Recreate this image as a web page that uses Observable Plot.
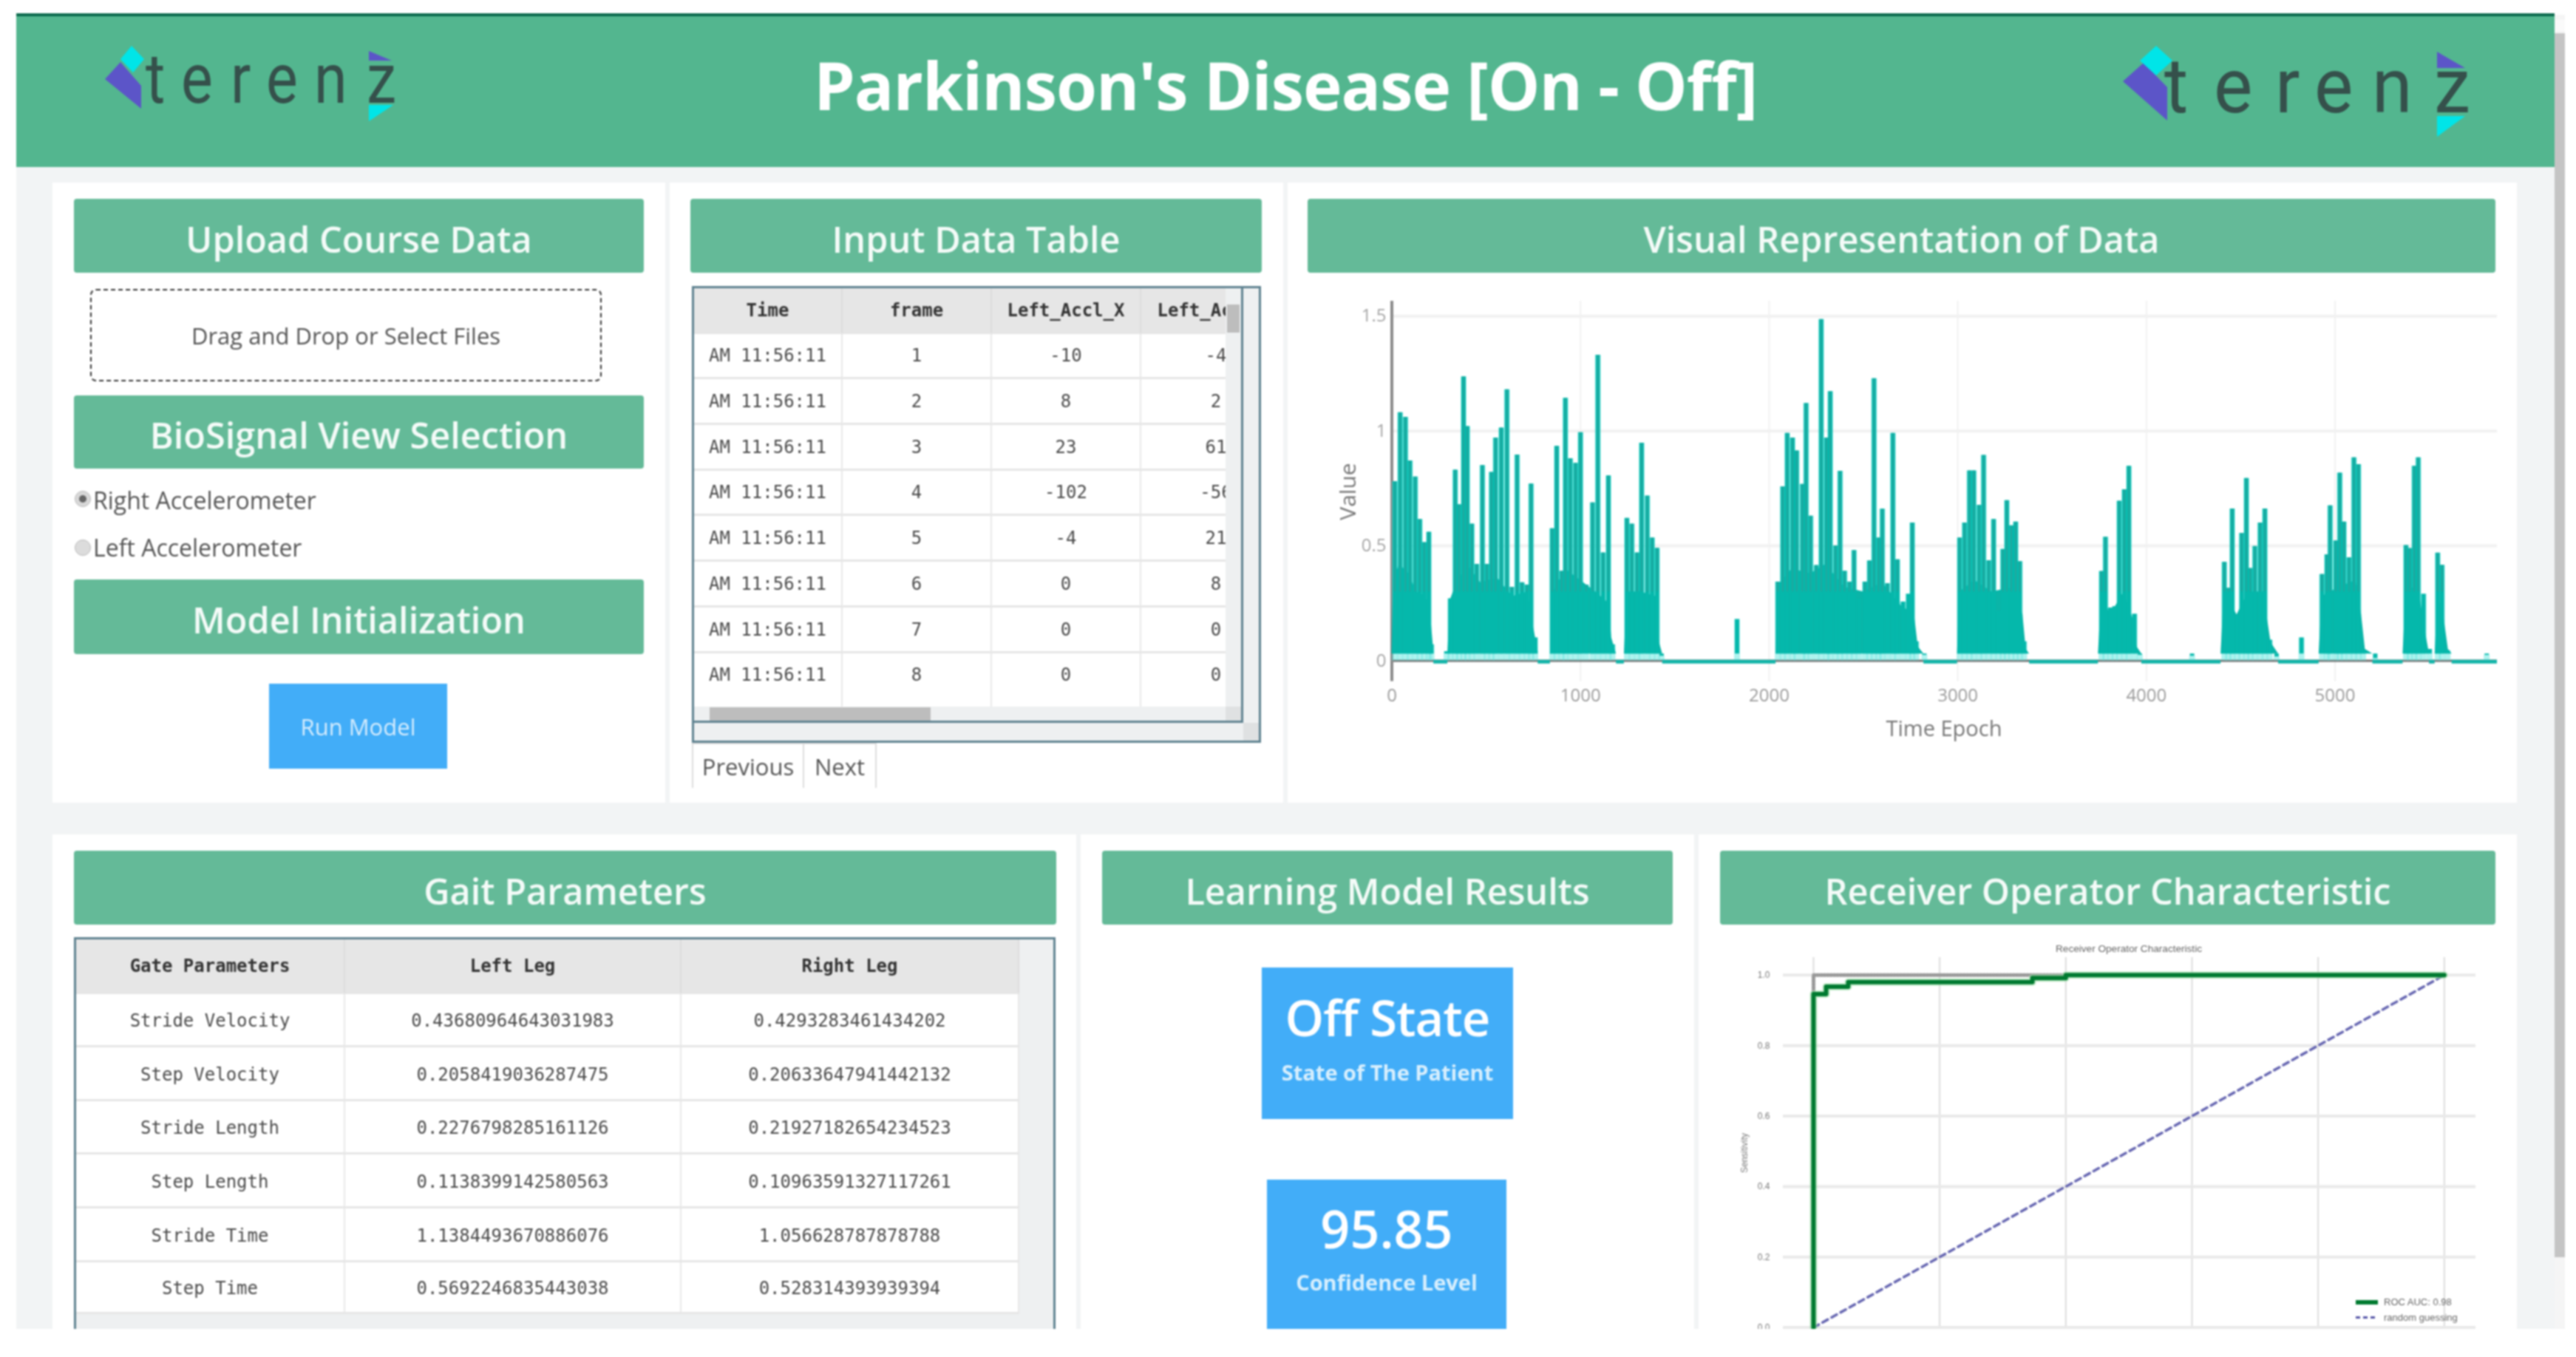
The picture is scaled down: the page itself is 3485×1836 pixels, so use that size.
<!DOCTYPE html>
<html>
<head>
<meta charset="utf-8">
<script src="https://cdn.jsdelivr.net/npm/d3@7"></script>
<script src="https://cdn.jsdelivr.net/npm/@observablehq/plot@0.6"></script>
<style>
  html, body { margin: 0; background: #fff; overflow: hidden; }
  #root { position: relative; width: 3485px; height: 1836px; font-family: "Open Sans", sans-serif; overflow: hidden; filter: blur(0.8px); }
  #root div { position: absolute; box-sizing: border-box; }
  .panel { background: #fff; }
  .head { background: #64ba98; color: #f4fbf8; font-weight: 600; font-size: 48.6px; display: flex; align-items: center; justify-content: center; border-radius: 4px; padding-top: 7px; }
  .tbl { font-family: "DejaVu Sans Mono", monospace; font-size: 24px; color: #4a4a4a; text-align: center; line-height: 1; white-space: nowrap; }
  .cell { display: flex; align-items: center; justify-content: center; overflow: hidden; border-right: 2px solid #e8e8e8; border-bottom: 3px solid #e6e6e6; }
  .th { background: #e6e6e6; color: #333; font-weight: bold; border-right-color: #dcdcdc; }
  .sb { background: #eef0f1; }
  .thumb { background: #bdbdbd; }
  .blue { background: #42adf8; color: #fff; display: flex; flex-direction: column; align-items: center; }
  svg { display: block; }
</style>
</head>
<body>
<div id="root"></div>
<script>
// Signal chart: peak of every spike
const spikeEpochs = [16,44,72,96,124,148,172,196,210,290,
  310,336,356,380,400,424,450,480,504,528,550,580,610,636,664,690,716,738,760,
  850,874,900,920,946,974,1000,1030,1064,1092,1120,1148,1170,
  1246,1272,1300,1324,1354,1380,1406,1430,1830,
  2046,2072,2096,2124,2146,2176,2196,2220,2250,2276,2304,2324,2352,2376,2400,2426,2450,2476,2508,2532,2556,2580,2600,2627,2656,2680,2710,2738,2759,2780,2823,
  3010,3036,3062,3085,3113,3137,3164,3190,3216,3239,3260,3284,3307,3329,3352,
  3762,3783,3809,3832,3856,3883,3907,3937,3965,4242,
  4413,4434,4455,4481,4505,4530,4551,4575,4603,4628,4654,4690,4822,
  4931,4957,4974,5004,5025,5047,5074,5100,5124,5149,5213,
  5376,5396,5420,5441,5469,5501,5544,5567,5597,5804];
const spikeValues = [.78,1.08,1.06,.87,.80,.615,.515,.56,.07,.04,
  .27,.83,.68,1.236,1.02,.595,.42,.85,.42,.82,.97,1.013,1.18,.32,.896,.34,.33,.77,.10,
  .575,.934,.39,1.143,.88,.86,.993,.33,.688,1.33,.47,.805,.07,
  .62,.595,.47,.947,.717,.535,.49,.02,.18,
  .343,.758,.99,.97,.914,.768,1.12,.63,.415,1.485,.97,1.172,.50,.825,.39,.343,.48,.27,.343,.435,1.228,.535,.66,.336,.99,.44,.256,.29,.60,.083,.024,
  .535,.60,.827,.827,.677,.894,.436,.615,.216,.485,.697,.588,.604,.432,.083,
  .389,.538,.23,.236,.695,.745,.847,.203,.024,.02,
  .429,.316,.661,.197,.555,.794,.402,.498,.60,.661,.09,.017,.10,
  .376,.462,.675,.522,.817,.604,.449,.884,.854,.044,.01,
  .502,.489,.847,.884,.29,.05,.469,.416,.044,.024];
// Top of the dense fill under the spikes, burst by burst
const bodyEpochs = [
  [0,8,40,90,130,180,205,222],
  [296,312,340,400,470,560,640,720,750,775],
  [840,856,920,1000,1080,1150,1165,1190],
  [1232,1248,1320,1400,1418,1435],
  [2036,2050,2120,2220,2300,2400,2500,2600,2700,2770,2790,2820],
  [2998,3010,3090,3180,3300,3345,3362,3380],
  [3745,3762,3810,3880,3930,3950,3975],
  [4395,4412,4480,4540,4620,4660,4700],
  [4915,4932,5020,5110,5140,5160,5200],
  [5360,5376,5440,5480,5500],
  [5530,5545,5575,5600,5620]];
const bodyValues = [
  [.03,.35,.42,.38,.3,.28,.2,.04],
  [.03,.27,.33,.42,.34,.36,.28,.3,.15,.04],
  [.03,.3,.4,.35,.3,.25,.1,.03],
  [.03,.3,.3,.28,.08,.03],
  [.03,.33,.4,.38,.42,.32,.3,.34,.24,.2,.06,.03],
  [.03,.3,.35,.3,.32,.2,.05,.03],
  [.03,.28,.2,.3,.18,.06,.03],
  [.03,.3,.2,.3,.3,.08,.03],
  [.03,.28,.32,.35,.2,.05,.03],
  [.03,.3,.33,.12,.03],
  [.03,.28,.2,.05,.03]];
const signalXTicks = [0,1000,2000,3000,4000,5000];
const signalYTicks = [0,.5,1,1.5];

// ROC curve
const rocFpr = [0,0,.02,.02,.055,.055,.347,.347,.4,.4,1];
const rocTpr = [0,.946,.946,.967,.967,.98,.98,.992,.992,1,1];
const perfectFpr = [0,0,.4];
const perfectTpr = [0,1,1];
const randomFpr = [0,1];
const randomTpr = [0,1];
const rocTicks = [0,.2,.4,.6,.8,1];

// Tables
const inputColumns = ["Time","frame","Left_Accl_X","Left_Accl_Y"];
const inputFrames = [1,2,3,4,5,6,7,8];
const inputLeftX = [-10,8,23,-102,-4,0,0,0];
const inputLeftNext = ["-4","2","61","-56","21","8","0","0"];
const gaitColumns = ["Gate Parameters","Left Leg","Right Leg"];
const gaitNames = ["Stride Velocity","Step Velocity","Stride Length","Step Length","Stride Time","Step Time"];
const gaitLeft = ["0.43680964643031983","0.2058419036287475","0.2276798285161126","0.1138399142580563","1.1384493670886076","0.5692246835443038"];
const gaitRight = ["0.4293283461434202","0.20633647941442132","0.21927182654234523","0.10963591327117261","1.056628787878788","0.528314393939394"];

const root = document.getElementById("root");

function box(x0, y0, x1, y1, cls, html, css) {
  const d = document.createElement("div");
  d.className = cls || "";
  d.style.cssText = `left:${x0}px;top:${y0}px;width:${x1 - x0}px;height:${y1 - y0}px;` + (css || "");
  if (html) d.innerHTML = html;
  root.appendChild(d);
  return d;
}

// page
box(22, 20, 3456, 1798, "", "", "background:#f2f4f5");
box(22, 18, 3456, 226, "", "", "background:#53b68f;border-top:4px solid #0b6a4c");
box(3456, 20, 3470, 1798, "", "", "background:#f5f5f5");
box(3456, 27, 3470, 42, "", "", "background:#fafafa");
box(3456, 45, 3470, 1701, "", "", "background:#c4c4c4");

function logo(xs, sx, base, fs, shapes) {
  const letters = "terenz".split("").map((c, i) =>
    `<text transform="translate(${xs[i]},${base}) scale(${sx},1)" font-family="Roboto" font-weight="400" font-size="${fs}" fill="#35504b">${c}</text>`).join("");
  const svg = `<svg width="3485" height="240" style="position:absolute;left:0;top:0;overflow:visible">${shapes}${letters}</svg>`;
  box(0, 0, 3485, 240, "", svg);
}
logo([197,245,312,360,425,496], .85, 139, 95,
  `<polygon points="142,107 163,84 191,116 191,147" fill="#5c55c8"/>
   <polygon points="163,80 178,62 195,80 180,98" fill="#00e5e8"/>
   <polygon points="499,69 530,82 499,82" fill="#5c55c8"/>
   <polygon points="499,142 532,142 499,164" fill="#00e5e8"/>`);
logo([2928,2995,3078,3131,3209,3293], .95, 152, 104,
  `<polygon points="2872,110 2900,85 2932,118 2932,163" fill="#5c55c8"/>
   <polygon points="2895,82 2917,62 2939,82 2917,102" fill="#00e5e8"/>
   <polygon points="3297,70 3335,92 3297,92" fill="#5c55c8"/>
   <polygon points="3297,157 3335,157 3297,185" fill="#00e5e8"/>`);
box(22, 20, 3456, 226, "", `<span>Parkinson's Disease [On - Off]</span>`,
  "display:flex;align-items:center;justify-content:center;color:#fff;font-weight:700;font-size:89px;padding-bottom:18px;letter-spacing:-1px;");

// panels
box(71, 247, 900, 1086, "panel");
box(906, 247, 1736, 1086, "panel");
box(1742, 247, 3405, 1086, "panel");
box(71, 1129, 1456, 1798, "panel");
box(1462, 1129, 2292, 1798, "panel");
box(2298, 1129, 3405, 1798, "panel");

// section headers
box(100, 269, 871, 369, "head", "Upload Course Data");
box(100, 535, 871, 634, "head", "BioSignal View Selection");
box(100, 784, 871, 885, "head", "Model Initialization");
box(934, 269, 1707, 369, "head", "Input Data Table");
box(1769, 269, 3376, 369, "head", "Visual Representation of Data");
box(100, 1151, 1429, 1251, "head", "Gait Parameters");
box(1491, 1151, 2263, 1251, "head", "Learning Model Results");
box(2327, 1151, 3376, 1251, "head", "Receiver Operator Characteristic");

// upload + radios + button
box(122, 391, 814, 516, "", "Drag and Drop or Select Files",
  "border:2px dashed #333;border-radius:8px;display:flex;align-items:center;justify-content:center;font-size:31px;color:#555;");
box(101, 664, 123, 686, "", "", "border-radius:50%;background:#d8d8d8;border:1px solid #bbb;");
box(107, 670, 117, 680, "", "", "border-radius:50%;background:#666;");
box(101, 730, 123, 752, "", "", "border-radius:50%;background:#dcdcdc;border:1px solid #bbb;");
box(126, 650, 880, 704, "", "Right Accelerometer", "font-size:32px;color:#555;line-height:54px;");
box(126, 714, 880, 768, "", "Left Accelerometer", "font-size:32px;color:#555;line-height:54px;");
box(364, 925, 605, 1040, "blue", "Run Model", "justify-content:center;font-size:31px;color:#d5ecfd;");

// input table: outer frame and header
box(936, 387, 1706, 1005, "", "", "border:3px solid #5f8290;background:#eef0f1;");
box(939, 390, 1682, 978, "", "", "border-right:3px solid #5f8290;border-bottom:3px solid #5f8290;background:#fff;");
const inputX = [939, 1140, 1342, 1544, 1746];
const inputRowY = [390, 452, 513, 575, 637, 698, 760, 822, 884, 956];
inputColumns.forEach((c, j) => {
  // last column runs under the scrollbar, so it is clipped there
  const clip = j === 3 ? "clip-path:inset(0 88px 0 0);border-right:none;" : "";
  box(inputX[j], inputRowY[0], inputX[j + 1], inputRowY[1], "tbl cell th", `<span>${c}</span>`, clip);
});
inputFrames.forEach((f, i) => {
  const row = ["AM 11:56:11", f, inputLeftX[i], inputLeftNext[i]];
  row.forEach((v, j) => {
    const clip = j === 3 ? "clip-path:inset(0 88px 0 0);border-right:none;" : "";
    const css = (i === 7 ? "border-bottom:none;padding-bottom:14px;" : "") + clip;
    box(inputX[j], inputRowY[i + 1], inputX[j + 1], inputRowY[i + 2], "tbl cell", `<span>${v}</span>`, css);
  });
});
box(1658, 390, 1679, 956, "sb");
box(1660, 412, 1677, 450, "thumb");
box(939, 956, 1679, 975, "sb");
box(960, 957, 1259, 975, "thumb");
box(1658, 956, 1679, 975, "", "", "background:#dfe1e2");
box(1682, 978, 1703, 1002, "", "", "background:#dfe1e2");
box(936, 1005, 1088, 1066, "", "Previous", "border:2px solid #ddd;border-bottom:none;font-size:31px;color:#555;display:flex;align-items:center;justify-content:center;");
box(1088, 1005, 1186, 1066, "", "Next", "border:2px solid #ddd;border-bottom:none;border-left:none;font-size:31px;color:#555;display:flex;align-items:center;justify-content:center;");

// gait table
box(100, 1268, 1428, 1798, "", "", "border:3px solid #5f8290;border-bottom:none;background:#eef0f1;");
box(103, 1271, 1403, 1798, "", "", "border-right:2px solid #c9d2d6;background:#fff;");
const gaitX = [103, 467, 922, 1379];
const gaitRowY = [1271, 1345, 1417, 1490, 1562, 1635, 1708, 1778];
gaitColumns.forEach((c, j) => box(gaitX[j], gaitRowY[0], gaitX[j + 1], gaitRowY[1], "tbl cell th", `<span>${c}</span>`));
gaitNames.forEach((n, i) => {
  [n, gaitLeft[i], gaitRight[i]].forEach((v, j) => {
    box(gaitX[j], gaitRowY[i + 1], gaitX[j + 1], gaitRowY[i + 2], "tbl cell", `<span style="margin-top:3px">${v}</span>`);
  });
});
box(1379, 1271, 1403, 1798, "sb");
box(103, 1778, 1403, 1798, "sb");

// result boxes
box(1707, 1309, 2047, 1514, "blue", `<span style="font-size:67px;font-weight:600;margin-top:22px;line-height:90px;letter-spacing:-1px">Off State</span><span style="font-size:29px;font-weight:700;color:#d8effd;margin-top:10px;line-height:40px">State of The Patient</span>`);
box(1714, 1596, 2038, 1798, "blue", `<span style="font-size:70px;font-weight:600;margin-top:20px;line-height:92px">95.85</span><span style="font-size:29px;font-weight:700;color:#d8effd;margin-top:7px;line-height:40px">Confidence Level</span>`);

// signal chart
const spikes = spikeEpochs.map((e, i) => ({e, v: spikeValues[i]}));
const body = bodyEpochs.flatMap((es, b) => es.map((e, i) => ({b, e, v: bodyValues[b][i]})));
// flat stretches between bursts
const quiet = bodyEpochs.map((es, i) => ({s: i ? bodyEpochs[i - 1].at(-1) : 0, t: es[0]})).concat([{s: bodyEpochs.at(-1).at(-1), t: 5860}]);

const signalPlot = Plot.plot({
  width: 1640,
  height: 620,
  marginLeft: 0, marginRight: 0, marginTop: 0, marginBottom: 0,
  style: {background: "transparent", fontFamily: "Open Sans", overflow: "visible"},
  x: {domain: [0, 5860], range: [112.5, 1608]},
  y: {domain: [-0.09, 1.565], range: [531.5, 17]},
  marks: [
    Plot.ruleX(signalXTicks.slice(1), {y1: -0.09, y2: 1.565, stroke: "#f1f1f1", strokeWidth: 2}),
    Plot.ruleY(signalYTicks.slice(1), {x1: 0, x2: 5860, stroke: "#f1f1f1", strokeWidth: 4}),
    Plot.axisX({ticks: signalXTicks, tickSize: 0, tickPadding: 0, anchor: "bottom", fontSize: 24, color: "#9a9a9a",
      label: null, tickFormat: d3.format("d"), dy: -79}),
    Plot.axisY({ticks: signalYTicks, tickSize: 0, anchor: "left", fontSize: 24, color: "#a5a5a5",
      label: null, tickFormat: d => String(d), dx: 105, tickPadding: 0}),
    Plot.ruleY([0], {x1: 0, x2: 5860, stroke: "#6f6f6f", strokeWidth: 3}),
    Plot.ruleX([0], {y1: -0.09, y2: 1.565, stroke: "#8a8a8a", strokeWidth: 4}),
    Plot.ruleX(spikes, {x: "e", y1: 0, y2: "v", stroke: "#5fe8e0", strokeWidth: 8, strokeOpacity: .5}),
    Plot.area(body, {x1: "e", y1: .03, y2: "v", z: "b", fill: "#0ab5a8"}),
    Plot.ruleX(spikes, {x: "e", y1: .03, y2: "v", stroke: "#05b8ab", strokeWidth: 6}),
    Plot.ruleX(spikes.filter(d => d.v > .3), {x: "e", y1: .3, y2: "v", stroke: "#2f9f97", strokeWidth: 1.5}),
    Plot.ruleY(quiet, {x1: "s", x2: "t", y: -0.004, stroke: "#12b5a9", strokeWidth: 5})
  ]
});
box(1770, 390, 3410, 1010, "", "").appendChild(signalPlot);
box(1800, 620, 1844, 710, "", "<span>Value</span>", "font-size:30px;color:#777;display:flex;align-items:center;justify-content:center;transform:rotate(-90deg);");
box(2480, 963, 2780, 1007, "", "Time Epoch", "font-size:29px;color:#777;text-align:center;line-height:44px;");

// ROC chart
const line = (xs, ys) => xs.map((x, i) => ({x, y: ys[i]}));
const rocPlot = Plot.plot({
  width: 1060,
  height: 538,
  marginLeft: 0, marginRight: 0, marginTop: 0, marginBottom: 0,
  style: {background: "transparent", fontFamily: "Liberation Sans", overflow: "hidden"},
  x: {domain: [-0.048, 1.05], range: [72, 1009], axis: null},
  y: {domain: [0, 1.05], range: [535.6, 35]},
  marks: [
    Plot.ruleX(rocTicks, {y1: 0, y2: 1.05, stroke: "#dcdcdc", strokeWidth: 2}),
    Plot.ruleY(rocTicks, {x1: -0.048, x2: 1.05, stroke: "#e9e9e9", strokeWidth: 4}),
    Plot.axisY({ticks: rocTicks, tickSize: 0, fontSize: 12, color: "#777", label: null, anchor: "left",
      tickFormat: d3.format(".1f"), dx: 54, tickPadding: 0}),
    Plot.line(line(perfectFpr, perfectTpr), {x: "x", y: "y", stroke: "#999", strokeWidth: 5, strokeDasharray: "2 2.5"}),
    Plot.line(line(randomFpr, randomTpr), {x: "x", y: "y", stroke: "#6464b0", strokeWidth: 3.5, strokeDasharray: "8 6"}),
    Plot.line(line(rocFpr, rocTpr), {x: "x", y: "y", stroke: "#9fe0a9", strokeWidth: 10, strokeOpacity: .6}),
    Plot.line(line(rocFpr, rocTpr), {x: "x", y: "y", stroke: "#007a30", strokeWidth: 6})
  ]
});
box(2340, 1260, 3400, 1798, "", "").appendChild(rocPlot);
box(2640, 1274, 3120, 1294, "", "Receiver Operator Characteristic", "font:13.6px 'Liberation Sans';color:#666;text-align:center;line-height:20px;");
box(2320, 1520, 2400, 1600, "", "<span>Sensitivity</span>", "font:12px 'Liberation Sans';color:#777;display:flex;align-items:center;justify-content:center;transform:rotate(-90deg);");
box(3187, 1759, 3217, 1765, "", "", "background:#007a30;");
box(3187, 1781, 3217, 1784, "", "", "background:repeating-linear-gradient(90deg,#5454a6 0 6px,transparent 6px 10px);");
box(3225, 1753, 3360, 1771, "", "ROC AUC: 0.98", "font:13px 'Liberation Sans';color:#666;line-height:18px;");
box(3225, 1774, 3360, 1792, "", "random guessing", "font:13px 'Liberation Sans';color:#666;line-height:18px;");
</script>
</body>
</html>
